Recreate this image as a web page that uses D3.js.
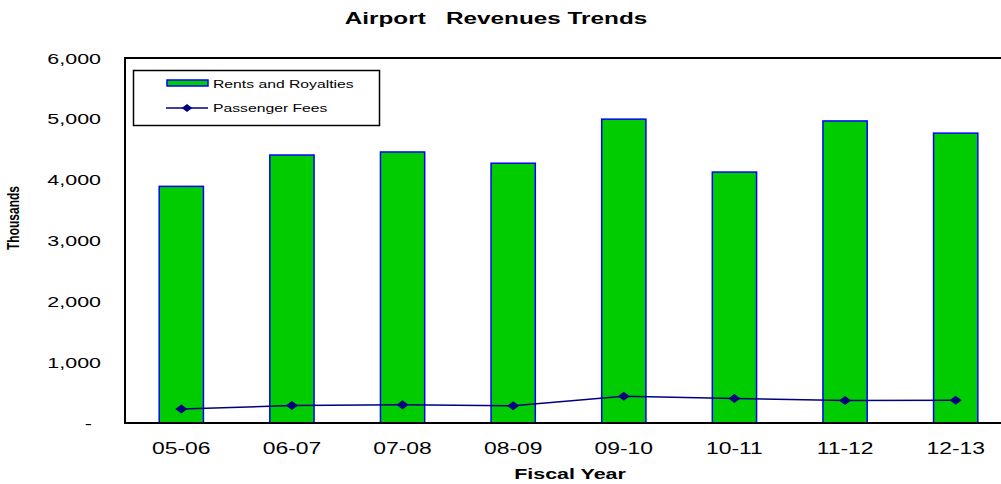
<!DOCTYPE html>
<html lang="en">
<head>
<meta charset="UTF-8">
<title>Airport Revenues Trends</title>
<script src="https://d3js.org/d3.v7.min.js"></script>
<style>
body{margin:0;background:#fff;}
svg{font-family:"Liberation Sans",Arial,sans-serif;}
</style>
</head>
<body>
<script>
// values in thousands
var years=["05-06","06-07","07-08","08-09","09-10","10-11","11-12","12-13"];
var rents=[3890,4405,4455,4270,4995,4125,4965,4765];
var passengerFees=[230,288,298,283,440,403,370,375];
var yTicks=[0,1000,2000,3000,4000,5000,6000];

var W=1001,H=484;
var m={left:125,top:58,right:1011,bottom:423};
var SX=1.43; // text in the original is drawn wide

var svg=d3.select("body").append("svg").attr("width",W).attr("height",H);

var x=d3.scaleBand().domain(years).range([m.left+1,m.right]).paddingInner(0.6).paddingOuter(0.3);
var y=d3.scaleLinear().domain([0,6000]).range([m.bottom,m.top]);

// wide text helper
function wtext(g,tx,ty,size,str,anchor,bold){
  return g.append("text")
    .attr("transform","translate("+tx+","+ty+") scale("+SX+",1)")
    .attr("font-size",size).attr("text-anchor",anchor||"start")
    .attr("font-weight",bold?"bold":"normal")
    .attr("xml:space","preserve").text(str);
}

wtext(svg,496,24,17,"Airport   Revenues Trends","middle",true);

// bars
svg.selectAll("rect.bar").data(years).enter().append("rect")
  .attr("class","bar")
  .attr("x",function(d){return x(d);})
  .attr("width",x.bandwidth())
  .attr("y",function(d,i){return y(rents[i]);})
  .attr("height",function(d,i){return y(0)-y(rents[i]);})
  .attr("fill","#00cc00").attr("stroke","#0000ff").attr("stroke-width",1.5);

// passenger fee line
var cx=function(d,i){return x(years[i])+x.bandwidth()/2;};
var line=d3.line().x(cx).y(function(d){return y(d);});
svg.append("path").datum(passengerFees).attr("d",line)
  .attr("fill","none").attr("stroke","#000080").attr("stroke-width",1.5);
var diamond=d3.symbol().type(d3.symbolDiamond).size(24);
svg.selectAll("path.pt").data(passengerFees).enter().append("path")
  .attr("class","pt").attr("d",diamond)
  .attr("transform",function(d,i){return "translate("+cx(d,i)+","+y(d)+") scale(2.3,1)";})
  .attr("fill","#000080");

// frame (left, top, bottom)
svg.append("path").attr("d","M"+m.right+","+m.top+"H"+m.left+"V"+m.bottom+"H"+m.right)
  .attr("fill","none").attr("stroke","#000").attr("stroke-width",2);

// y labels (zero shown as a dash, accounting style)
var fmt=d3.format(",");
yTicks.forEach(function(t){
  if(t===0) wtext(svg,92,y(t)+5.5,15,"-","end");
  else wtext(svg,101,y(t)+5.5,15,fmt(t),"end");
});

svg.append("text").attr("transform","translate(19,218) rotate(-90) scale(1,1.3)")
  .attr("text-anchor","middle").attr("font-size",12).attr("font-weight","bold")
  .text("Thousands");

// x labels
years.forEach(function(d,i){
  wtext(svg,cx(d,i),454,16,d,"middle");
});

wtext(svg,570,479,15,"Fiscal Year","middle",true);

// legend
var lg=svg.append("g");
lg.append("rect").attr("x",133.5).attr("y",70.5).attr("width",246).attr("height",55)
  .attr("fill","#fff").attr("stroke","#000").attr("stroke-width",1.5);
lg.append("rect").attr("x",167).attr("y",80).attr("width",41).attr("height",6)
  .attr("fill","#00cc00").attr("stroke","#0000ff").attr("stroke-width",1.5);
wtext(lg,213,87.5,11,"Rents and Royalties");
lg.append("line").attr("x1",166).attr("x2",208).attr("y1",108).attr("y2",108)
  .attr("stroke","#000080").attr("stroke-width",1.5);
lg.append("path").attr("d",diamond).attr("transform","translate(187,108) scale(2,0.9)").attr("fill","#000080");
wtext(lg,213,112,11,"Passenger Fees");
</script>
</body>
</html>
